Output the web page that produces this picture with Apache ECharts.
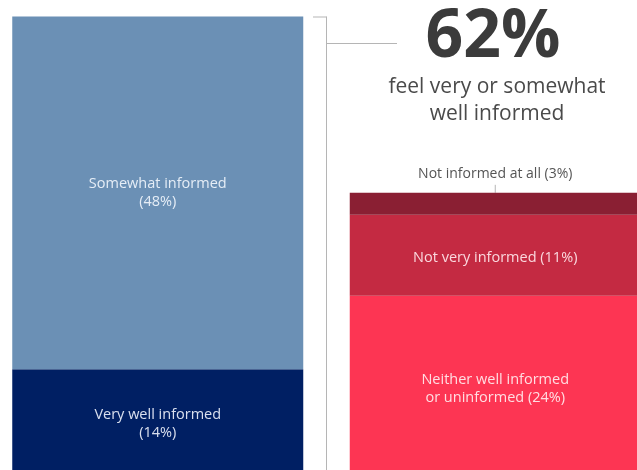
<!DOCTYPE html>
<html>
<head>
<meta charset="utf-8">
<script src="https://cdn.jsdelivr.net/npm/echarts@6/dist/echarts.min.js"></script>
<style>
  html, body { margin: 0; padding: 0; background: #fff; }
  #chart { width: 637px; height: 470px; }
</style>
</head>
<body>
<div id="chart"></div>
<script>
// Groups: informed vs. not informed
const categories = ['Informed', 'Not informed'];

// Informed group (bottom to top)
const veryWell = [14, '-'];
const somewhat = [48, '-'];

// Not-informed group (bottom to top)
const neither = ['-', 24];
const notVery = ['-', 11];
const notAtAll = ['-', 3];

const seriesNames = {
  veryWell: 'Very well informed',
  somewhat: 'Somewhat informed',
  neither: 'Neither well informed\nor uninformed',
  notVery: 'Not very informed',
  notAtAll: 'Not informed at all'
};

const FONT = '"Open Sans", Lato, sans-serif';
const informedTotal = veryWell[0] + somewhat[0];

const chart = echarts.init(document.getElementById('chart'), null, { renderer: 'canvas' });

function inside(color) {
  return {
    show: true,
    position: 'inside',
    color: color,
    fontFamily: FONT,
    fontSize: 14.5,
    lineHeight: 18
  };
}

function stackSeries(key, data, color, label) {
  return {
    name: seriesNames[key],
    type: 'bar',
    stack: 'total',
    data: data,
    barWidth: 291,
    itemStyle: { color: color },
    label: label,
    silent: true
  };
}

const option = {
  animation: false,
  grid: { left: -11, width: 675, top: 16.5, height: 455.5, outerBoundsMode: 'none' },
  xAxis: {
    type: 'category',
    data: categories,
    show: false
  },
  yAxis: {
    type: 'value',
    min: 0,
    max: 62,
    show: false
  },
  series: [
    stackSeries('veryWell', veryWell, '#001f63', Object.assign(inside('rgba(235,240,250,0.92)'), {
      formatter: p => seriesNames.veryWell + '\n(' + p.value + '%)',
      offset: [0, 3]
    })),
    stackSeries('somewhat', somewhat, '#6b90b5', Object.assign(inside('rgba(240,245,252,0.92)'), {
      formatter: p => seriesNames.somewhat + '\n(' + p.value + '%)'
    })),
    stackSeries('neither', neither, '#fd3553', Object.assign(inside('rgba(255,235,238,0.92)'), {
      formatter: p => seriesNames.neither + ' (' + p.value + '%)',
      offset: [0, 5]
    })),
    stackSeries('notVery', notVery, '#c42a42', Object.assign(inside('rgba(255,230,234,0.92)'), {
      formatter: p => seriesNames.notVery + ' (' + p.value + '%)',
      offset: [0, 3]
    })),
    stackSeries('notAtAll', notAtAll, '#8a1f33', {
      show: true,
      position: 'top',
      distance: 12,
      color: '#555',
      fontFamily: FONT,
      fontSize: 14,
      formatter: p => seriesNames.notAtAll + ' (' + p.value + '%)'
    })
  ]
};

chart.setOption(option);

// Bracket and callout for the informed total, anchored on the axis scale
const yTop = chart.convertToPixel({ gridIndex: 0 }, [0, informedTotal])[1];
const yBase = chart.convertToPixel({ gridIndex: 0 }, [0, 0])[1];
const notTop = chart.convertToPixel({ gridIndex: 0 }, [1, neither[1] + notVery[1] + notAtAll[1]]);
const lineStyle = { stroke: '#b5b5b5', lineWidth: 1 };

chart.setOption({
  graphic: [
    { type: 'line', shape: { x1: 313, y1: yTop + 0.5, x2: 326.5, y2: yTop + 0.5 }, style: lineStyle, silent: true },
    { type: 'line', shape: { x1: 326.5, y1: yTop, x2: 326.5, y2: yBase }, style: lineStyle, silent: true },
    { type: 'line', shape: { x1: 326.5, y1: 43.5, x2: 397, y2: 43.5 }, style: lineStyle, silent: true },
    { type: 'line', shape: { x1: notTop[0], y1: notTop[1] - 8, x2: notTop[0], y2: notTop[1] }, style: lineStyle, silent: true },
    {
      type: 'text', x: 493, y: 38, silent: true,
      style: {
        text: informedTotal + '%',
        fontFamily: FONT, fontWeight: 'bold', fontSize: 66,
        fill: '#3b3b3b', align: 'center', verticalAlign: 'middle'
      }
    },
    {
      type: 'text', x: 497, y: 101, silent: true,
      style: {
        text: 'feel very or somewhat\nwell informed',
        fontFamily: FONT, fontSize: 21, lineHeight: 27,
        fill: '#4a4a4a', align: 'center', verticalAlign: 'middle'
      }
    }
  ]
});
</script>
</body>
</html>
